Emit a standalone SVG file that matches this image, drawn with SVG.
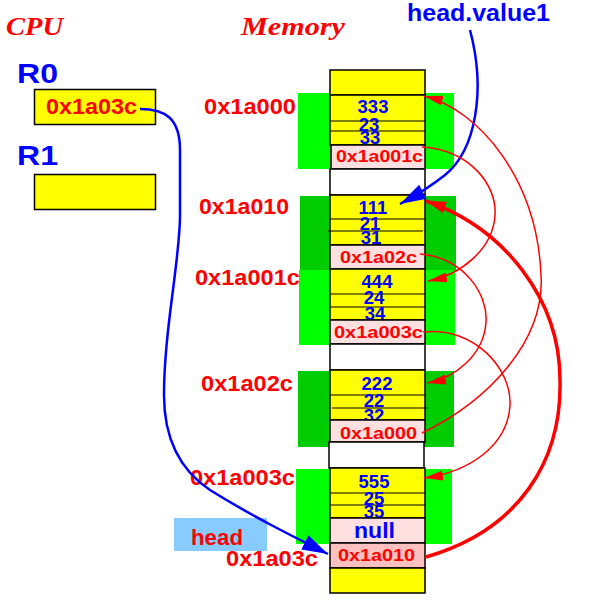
<svg xmlns="http://www.w3.org/2000/svg" width="592" height="605" viewBox="0 0 592 605">
<style>
.t{font-family:"Liberation Sans",Arial,sans-serif;font-weight:bold}
.addr{fill:#ff0000;font-size:22px}
.cell{fill:#ff0000;font-size:17px}
.num{fill:#0000ff;font-size:18.5px;text-anchor:middle}
.reg{fill:#0000ff;font-size:28px}
.ttl{font-family:"Liberation Serif","Times New Roman",serif;font-weight:bold;font-style:italic;font-size:26px;fill:#ff0000}
.y{fill:#ffff00;stroke:#000;stroke-width:1.5}
.p{fill:#ffe0e0;stroke:#000;stroke-width:1.5}
.p2{fill:#ffc0c0;stroke:#000;stroke-width:1.5}
.w{fill:#fff;stroke:#000;stroke-width:1.5}
.ln{stroke:#000;stroke-width:1}
.lg{fill:#00ff00}
.dg{fill:#00cc00}
.rt{fill:none;stroke:#ff0000;stroke-width:1.5}
.rk{fill:none;stroke:#ff0000;stroke-width:3.5}
.bl{fill:none;stroke:#0000ff;stroke-width:2.5}
</style>
<defs>
<marker id="ab" markerUnits="userSpaceOnUse" markerWidth="30" markerHeight="20" refX="26" refY="8" orient="auto"><path d="M0,0 L26,8 L0,16 Z" fill="#0000ff"/></marker>
<marker id="ar" markerUnits="userSpaceOnUse" markerWidth="22" markerHeight="12" refX="19" refY="5" orient="auto"><path d="M0,0 L19,5 L0,10 Z" fill="#ff0000"/></marker>
<marker id="ak" markerUnits="userSpaceOnUse" markerWidth="24" markerHeight="14" refX="20" refY="6" orient="auto"><path d="M0,0 L20,6 L0,12 Z" fill="#ff0000"/></marker>
</defs>
<rect width="592" height="605" fill="#fff"/>

<g id="titles">
<text class="ttl" x="6" y="35" textLength="57" lengthAdjust="spacingAndGlyphs">CPU</text>
<text class="ttl" x="241" y="35" textLength="104" lengthAdjust="spacingAndGlyphs">Memory</text>
</g>

<g id="R0">
<text class="t reg" x="17" y="83" textLength="41" lengthAdjust="spacingAndGlyphs">R0</text>
<rect x="34.5" y="89.5" width="121" height="35" fill="#ffff00" stroke="#000" stroke-width="1.5"/>
<text class="t addr" x="46" y="114" textLength="91" lengthAdjust="spacingAndGlyphs">0x1a03c</text>
</g>
<g id="R1">
<text class="t reg" x="17" y="165" textLength="41" lengthAdjust="spacingAndGlyphs">R1</text>
<rect x="34.5" y="174.5" width="121" height="35" fill="#ffff00" stroke="#000" stroke-width="1.5"/>
</g>

<g id="head">
<rect x="174" y="518" width="93" height="33" fill="#88ccff"/>
<text class="t addr" x="191" y="545" textLength="52" lengthAdjust="spacingAndGlyphs">head</text>
</g>
<g id="headvalue1">
<text class="t" x="407" y="21" font-size="23" fill="#0000ff" textLength="143" lengthAdjust="spacingAndGlyphs">head.value1</text>
</g>

<g id="address-labels">
<text class="t addr" x="204" y="114" textLength="92" lengthAdjust="spacingAndGlyphs">0x1a000</text>
<text class="t addr" x="199" y="214" textLength="90" lengthAdjust="spacingAndGlyphs">0x1a010</text>
<text class="t addr" x="195" y="285" textLength="105" lengthAdjust="spacingAndGlyphs">0x1a001c</text>
<text class="t addr" x="201" y="391" textLength="92" lengthAdjust="spacingAndGlyphs">0x1a02c</text>
<text class="t addr" x="190" y="485" textLength="105" lengthAdjust="spacingAndGlyphs">0x1a003c</text>
<text class="t addr" x="226" y="566" textLength="92" lengthAdjust="spacingAndGlyphs">0x1a03c</text>
</g>

<g id="green-blocks">
<rect class="lg" x="298" y="93" width="156" height="76"/>
<rect class="dg" x="300" y="196" width="156" height="74"/>
<rect class="lg" x="299" y="270" width="156" height="75"/>
<rect class="dg" x="298" y="371" width="156" height="76"/>
<rect class="lg" x="296" y="469" width="156" height="75"/>
</g>

<g id="mem-top"><rect class="y" x="330" y="70" width="95" height="25"/></g>

<g id="node-0x1a000">
<rect class="y" x="330" y="95" width="95" height="50"/>
<line class="ln" x1="330" y1="121" x2="425" y2="121"/>
<line class="ln" x1="330" y1="131" x2="425" y2="131"/>
<text class="t num" x="373" y="113">333</text>
<text class="t num" x="369" y="131">23</text>
<text class="t num" x="370" y="144">33</text>
<rect class="p" x="331" y="145" width="94" height="24"/>
<text class="t cell" x="336" y="162" textLength="87" lengthAdjust="spacingAndGlyphs">0x1a001c</text>
</g>
<g id="gap1"><rect class="w" x="330" y="169" width="95" height="26"/></g>

<g id="node-0x1a010">
<rect class="y" x="330" y="195" width="95" height="50"/>
<line class="ln" x1="330" y1="219" x2="425" y2="219"/>
<line class="ln" x1="328" y1="231" x2="423" y2="231"/>
<text class="t num" x="373" y="214">111</text>
<text class="t num" x="370" y="230">21</text>
<text class="t num" x="371" y="244">31</text>
<rect class="p" x="330" y="245" width="95" height="24"/>
<text class="t cell" x="340" y="263" textLength="77" lengthAdjust="spacingAndGlyphs">0x1a02c</text>
</g>

<g id="node-0x1a001c">
<rect class="y" x="330" y="269" width="95" height="51"/>
<line class="ln" x1="330" y1="294" x2="425" y2="294"/>
<line class="ln" x1="330" y1="307" x2="425" y2="307"/>
<text class="t num" x="377" y="288">444</text>
<text class="t num" x="374" y="304">24</text>
<text class="t num" x="375" y="320">34</text>
<rect class="p" x="330" y="320" width="95" height="24"/>
<text class="t cell" x="334" y="338" textLength="89" lengthAdjust="spacingAndGlyphs">0x1a003c</text>
</g>
<g id="gap2"><rect class="w" x="330" y="344" width="95" height="26"/></g>

<g id="node-0x1a02c">
<rect class="y" x="330" y="370" width="95" height="50"/>
<line class="ln" x1="330" y1="395" x2="425" y2="395"/>
<line class="ln" x1="332" y1="408" x2="427" y2="408"/>
<text class="t num" x="377" y="390">222</text>
<text class="t num" x="374" y="407">22</text>
<text class="t num" x="374" y="422">32</text>
<rect class="p" x="330" y="420" width="95" height="22"/>
<text class="t cell" x="340" y="439" textLength="77" lengthAdjust="spacingAndGlyphs">0x1a000</text>
</g>
<g id="gap3"><rect class="w" x="329" y="442" width="95" height="26"/></g>

<g id="node-0x1a003c">
<rect class="y" x="330" y="468" width="95" height="50"/>
<line class="ln" x1="330" y1="493" x2="425" y2="493"/>
<line class="ln" x1="330" y1="505" x2="425" y2="505"/>
<text class="t num" x="374" y="488">555</text>
<text class="t num" x="374" y="505">25</text>
<text class="t num" x="374" y="518">35</text>
<rect class="p" x="330" y="518" width="95" height="25"/>
<text class="t" x="354" y="538" font-size="22" fill="#0000ff" textLength="41" lengthAdjust="spacingAndGlyphs">null</text>
</g>

<g id="node-0x1a03c">
<rect class="p2" x="330" y="543" width="95" height="25"/>
<text class="t cell" x="338" y="561" textLength="77" lengthAdjust="spacingAndGlyphs">0x1a010</text>
</g>
<g id="mem-bottom"><rect class="y" x="330" y="568" width="95" height="25"/></g>

<g id="connectors">
<path class="bl" marker-end="url(#ab)" d="M140,109 C165,109 180,118 180,150 L180,215 C180,260 164,330 164,395 C164,440 180,470 210,490 C250,515 290,535 328,554"/>
<path class="bl" marker-end="url(#ab)" d="M470,30 C486,90 476,150 445,175 C430,187 415,196 400,204"/>
<path class="rt" marker-end="url(#ar)" d="M422,147 C470,150 497,185 495,215 C493,250 460,275 428,281"/>
<path class="rt" marker-end="url(#ar)" d="M420,254 C465,258 488,295 486,322 C484,355 455,378 427,383"/>
<path class="rt" marker-end="url(#ar)" d="M423,332 C475,326 512,370 510,405 C508,445 470,472 424,478"/>
<path class="rt" marker-end="url(#ar)" d="M422,433 C490,400 545,340 541,275 C537,180 480,110 424,96"/>
<path class="rk" marker-end="url(#ak)" d="M426,557 C520,530 562,460 560,380 C560,300 505,228 426,201"/>
</g>
</svg>
